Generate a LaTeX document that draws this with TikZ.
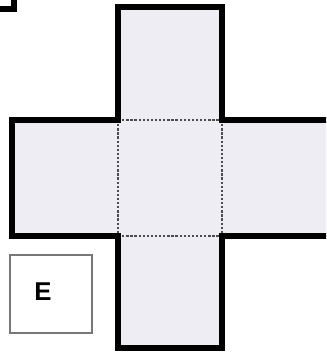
\documentclass[tikz,border=0pt]{standalone}
\usepackage{fontspec}
\setmainfont{Liberation Sans}
\usepackage{tikz}
\usetikzlibrary{calc}

\definecolor{netfill}{RGB}{237,237,243}
\definecolor{boxgray}{RGB}{120,120,120}

\tikzset{
	netline/.style={line width=4.6pt, line join=miter, black},
	foldline/.style={line width=1.2pt, dash pattern=on 2pt off 1.5pt, black!70},
	labelbox/.style={draw=boxgray, line width=1pt, minimum width=2.46cm, minimum height=2.34cm, inner sep=0pt}
}

\begin{document}
\begin{tikzpicture}[x=0.03cm, y=-0.03cm]
			\coordinate (bottomleft) at (0, 354);
			\coordinate (topright) at (326, 0);
			
			\useasboundingbox (bottomleft) rectangle (topright);
			\clip (bottomleft) rectangle (topright);
			
			% corner of the box at the top left
			\draw[netline] (0, 9) -- (14, 9) -- (14, -5);
			
			% the net
			\fill[netfill] (118, 7) -- (222, 7) -- (222, 120) -- (340, 120) -- (340, 236) -- (222, 236) -- (222, 348) -- (118, 348) -- (118, 236) -- (12, 236) -- (12, 120) -- (118, 120) -- cycle;
			
			\draw[foldline] (118, 120) -- (222, 120);
			\draw[foldline] (118, 120) -- (118, 236);
			\draw[foldline] (222, 120) -- (222, 236);
			\draw[foldline] (118, 236) -- (222, 236);
			
			\draw[netline] (340, 236) -- (222, 236) -- (222, 348) -- (118, 348) -- (118, 236) -- (12, 236) -- (12, 120) -- (118, 120) -- (118, 7) -- (222, 7) -- (222, 120) -- (340, 120);
			
			\node[labelbox] (ebox) at (51, 294) {};
			\node[font=\fontsize{22}{22}\selectfont\bfseries] (elabel) at (43, 292) {E};
			
		\end{tikzpicture}
\end{document}
